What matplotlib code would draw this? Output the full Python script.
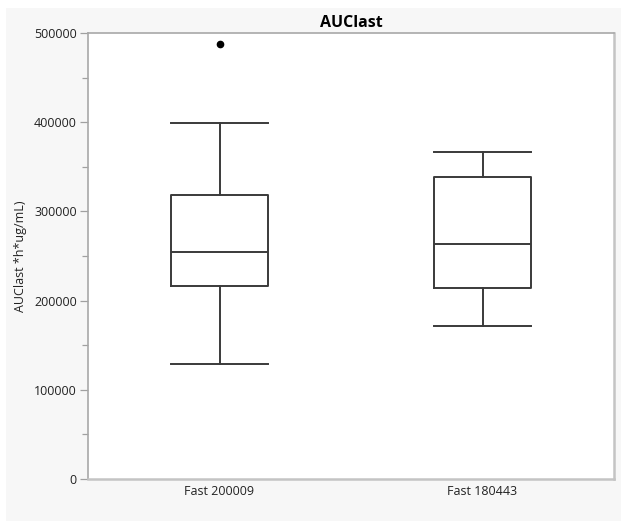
import matplotlib
matplotlib.use("Agg")
import matplotlib.pyplot as plt
from matplotlib.patches import Rectangle
from matplotlib.ticker import MultipleLocator

plt.rcParams["font.family"] = ["Open Sans", "DejaVu Sans"]

# box statistics
groups = ["Fast 200009", "Fast 180443"]
whisker_low = [129000, 171000]
q1 = [216500, 214500]
median = [254000, 264000]
q3 = [318500, 339000]
whisker_high = [399000, 367000]
outliers = [[487500], []]

yticks = [0, 100000, 200000, 300000, 400000, 500000]

W, H = 621, 521
fig = plt.figure(figsize=(W / 100, H / 100), dpi=100)
fig.patch.set_facecolor("white")
# light grey panel behind the plot (JMP style)
fig.patches.append(Rectangle((6 / W, 0), 1 - 6 / W, 1 - 8 / H,
                             transform=fig.transFigure, facecolor="#f7f7f7",
                             edgecolor="none", zorder=-10))

ax = fig.add_axes([88 / W, 1 - 479 / H, (614 - 88) / W, (479 - 33) / H])
ax.set_facecolor("white")

stats = []
for i, g in enumerate(groups):
    stats.append({
        "label": g,
        "whislo": whisker_low[i],
        "q1": q1[i],
        "med": median[i],
        "q3": q3[i],
        "whishi": whisker_high[i],
        "fliers": outliers[i],
    })

line_kw = dict(color="#3a3a3a", linewidth=1.4)
ax.bxp(stats, positions=[1, 2], widths=0.37, capwidths=0.37,
       boxprops=line_kw, whiskerprops=line_kw, capprops=line_kw,
       medianprops=line_kw,
       flierprops=dict(marker="o", markersize=4.5, markerfacecolor="black",
                       markeredgecolor="black"))

ax.set_xlim(0.5, 2.5)
ax.set_ylim(0, 500000)
ax.set_yticks(yticks)
ax.set_yticklabels([str(v) for v in yticks])
ax.yaxis.set_minor_locator(MultipleLocator(50000))
ax.tick_params(axis="y", which="major", length=6, width=0.9, color="#a0a0a0",
               labelsize=9, labelcolor="#222222", pad=2)
ax.tick_params(axis="y", which="minor", length=4, width=0.9, color="#a0a0a0")
ax.tick_params(axis="x", length=0, labelsize=9, labelcolor="#222222", pad=4)

for side in ["left", "top"]:
    ax.spines[side].set_color("#a8a8a8")
    ax.spines[side].set_linewidth(1.2)
for side in ["right", "bottom"]:
    ax.spines[side].set_color("#c4c4c4")
    ax.spines[side].set_linewidth(1.8)

ax.set_ylabel("AUClast *h*ug/mL)", fontsize=9, color="#222222", labelpad=5)
ax.set_title("AUClast", fontsize=11.5, fontweight="bold", pad=4)

fig.savefig("out.png", dpi=100, facecolor=fig.get_facecolor())
